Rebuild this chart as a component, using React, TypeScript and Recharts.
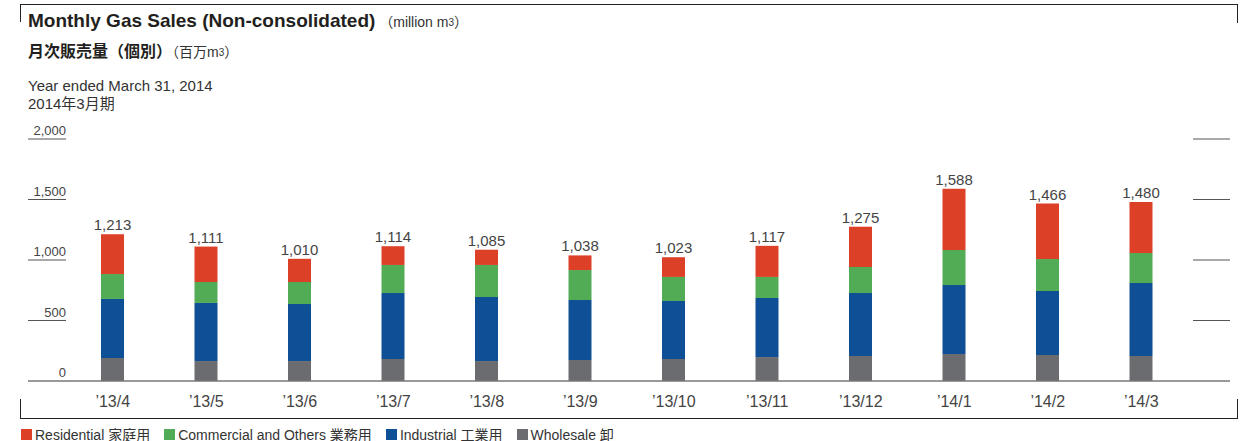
import { BarChart, Bar, XAxis, YAxis, LabelList } from 'recharts';

const months = ['’13/4', '’13/5', '’13/6', '’13/7', '’13/8', '’13/9', '’13/10', '’13/11', '’13/12', '’14/1', '’14/2', '’14/3'];
const wholesale = [190, 165, 165, 182, 165, 174, 182, 198, 207, 223, 215, 207];
const industrial = [488, 480, 471, 545, 529, 495, 479, 488, 520, 570, 529, 603];
const commercial = [206, 173, 182, 232, 265, 248, 199, 174, 215, 290, 264, 248];
const residential = [329, 293, 192, 155, 126, 121, 163, 257, 333, 505, 458, 422];
const totals = [1213, 1111, 1010, 1114, 1085, 1038, 1023, 1117, 1275, 1588, 1466, 1480];
const yTicks = [0, 500, 1000, 1500, 2000];

const series = [
  { key: 'residential', label: 'Residential 家庭用', color: '#dc4128' },
  { key: 'commercial', label: 'Commercial and Others 業務用', color: '#52ab55' },
  { key: 'industrial', label: 'Industrial 工業用', color: '#0f4f96' },
  { key: 'wholesale', label: 'Wholesale 卸', color: '#6b6c70' },
];

const FONT = "'Liberation Sans', Arial, 'Noto Sans CJK JP', sans-serif";

const rows = months.map((m, i) => ({
  month: m,
  wholesale: wholesale[i],
  industrial: industrial[i],
  commercial: commercial[i],
  residential: residential[i],
  total: totals[i],
}));

function YTick({ y, payload }: any) {
  const v = payload.value as number;
  return (
    <g>
      <text x={66} y={y - 4} textAnchor="end" fontSize={13} fill="#444" fontFamily={FONT}>
        {v.toLocaleString('en-US')}
      </text>
      {v === 0 ? (
        <line x1={28} x2={1230} y1={y} y2={y} stroke="#777" strokeWidth={1.5} />
      ) : (
        <>
          <line x1={28} x2={66} y1={y} y2={y} stroke="#555" />
          <line x1={1193} x2={1230} y1={y} y2={y} stroke="#555" />
        </>
      )}
    </g>
  );
}

function MonthTick({ x, y, payload }: any) {
  return (
    <text x={x} y={y + 18} textAnchor="middle" fontSize={16} fill="#444" fontFamily={FONT}>
      {payload.value}
    </text>
  );
}

function LegendRow() {
  return (
    <div style={{ display: 'flex', gap: 14, fontFamily: FONT, fontSize: 14, color: '#333' }}>
      {series.map((s) => (
        <div key={s.key} style={{ display: 'flex', alignItems: 'center' }}>
          <span style={{ width: 11, height: 11, background: s.color, display: 'inline-block', marginRight: 3 }} />
          {s.label}
        </div>
      ))}
    </div>
  );
}

const sup = { fontSize: 10, position: 'relative' as const, top: -1 };

export default function App() {
  const line = (style: React.CSSProperties) => (
    <div style={{ position: 'absolute', background: '#222', ...style }} />
  );
  return (
    <div style={{ position: 'absolute', left: 0, top: 0, width: 1259, height: 441, background: '#fff', fontFamily: FONT }}>
      {line({ left: 20, top: 4, width: 1218, height: 1 })}
      {line({ left: 20, top: 4, width: 1, height: 18 })}
      {line({ left: 1237, top: 4, width: 1, height: 19 })}
      {line({ left: 20, top: 418, width: 1218, height: 1 })}
      {line({ left: 20, top: 399, width: 1, height: 20 })}
      {line({ left: 1237, top: 399, width: 1, height: 20 })}

      <div style={{ position: 'absolute', left: 28, top: 10, color: '#231f20', whiteSpace: 'nowrap' }}>
        <span style={{ fontSize: 19, fontWeight: 'bold' }}>Monthly Gas Sales (Non-consolidated)</span>
        <span style={{ fontSize: 14, color: '#333' }}> （million m<span style={sup}>3</span>）</span>
      </div>
      <div style={{ position: 'absolute', left: 28, top: 38, color: '#231f20', whiteSpace: 'nowrap' }}>
        <span style={{ fontSize: 16, fontWeight: 'bold', fontFamily: "'Noto Sans CJK JP', sans-serif" }}>月次販売量（個別）</span>
        <span style={{ fontSize: 14, color: '#333' }}>（百万m<span style={sup}>3</span>）</span>
      </div>
      <div style={{ position: 'absolute', left: 28, top: 77, fontSize: 15, color: '#333', lineHeight: '18px' }}>
        Year ended March 31, 2014
        <br />
        2014年3月期
      </div>

      <div style={{ position: 'absolute', left: 0, top: 0 }}>
        <BarChart width={1259} height={441} data={rows} margin={{ top: 139, right: 71, bottom: 30, left: 28 }} barSize={23}>
          <YAxis
            width={38}
            domain={[0, 2000]}
            ticks={yTicks}
            axisLine={false}
            tickLine={false}
            tick={<YTick />}
            interval={0}
          />
          <XAxis dataKey="month" height={30} axisLine={false} tickLine={false} tick={<MonthTick />} interval={0} />
          <Bar dataKey="wholesale" stackId="a" fill="#6b6c70" isAnimationActive={false} />
          <Bar dataKey="industrial" stackId="a" fill="#0f4f96" isAnimationActive={false} />
          <Bar dataKey="commercial" stackId="a" fill="#52ab55" isAnimationActive={false} />
          <Bar dataKey="residential" stackId="a" fill="#dc4128" isAnimationActive={false}>
            <LabelList
              dataKey="total"
              position="top"
              offset={4}
              fontSize={15}
              fill="#444"
              fontFamily={FONT}
              formatter={(v: any) => Number(v).toLocaleString('en-US')}
            />
          </Bar>
        </BarChart>
      </div>

      <div style={{ position: 'absolute', left: 21, top: 424 }}>
        <LegendRow />
      </div>
    </div>
  );
}
